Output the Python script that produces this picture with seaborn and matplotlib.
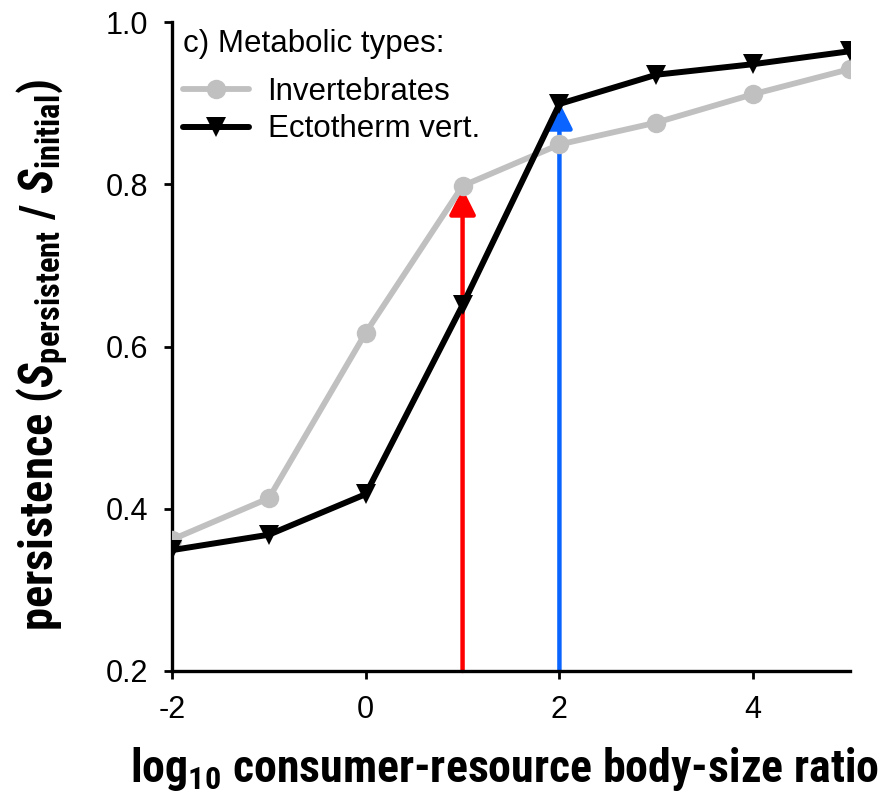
import matplotlib
matplotlib.use("Agg")
import matplotlib.pyplot as plt
import seaborn as sns
import pandas as pd

# Data
log_ratio = [-2, -1, 0, 1, 2, 3, 4, 5]
invertebrates = [0.362, 0.413, 0.617, 0.798, 0.849, 0.876, 0.911, 0.942]
ectotherm_vert = [0.349, 0.368, 0.418, 0.651, 0.899, 0.935, 0.948, 0.964]
series_names = ["Invertebrates", "Ectotherm vert."]
arrow_x = [1, 2]
arrow_top = [0.795, 0.901]
arrow_colors = ["#ff0000", "#0a64ff"]
xticks = [-2, 0, 2, 4]
yticks = [0.2, 0.4, 0.6, 0.8, 1.0]

sns.set_style("ticks")
plt.rcParams["font.family"] = ["Liberation Sans", "DejaVu Sans"]
plt.rcParams["text.color"] = "black"
plt.rcParams["axes.labelcolor"] = "black"
plt.rcParams["mathtext.fontset"] = "custom"
plt.rcParams["mathtext.rm"] = "Roboto Condensed:bold"
plt.rcParams["mathtext.it"] = "Roboto Condensed:bold:italic"
plt.rcParams["mathtext.bf"] = "Roboto Condensed:bold"

df = pd.DataFrame({
    "x": log_ratio * 2,
    "y": invertebrates + ectotherm_vert,
    "series": [series_names[0]] * len(log_ratio) + [series_names[1]] * len(log_ratio),
})

fig = plt.figure(figsize=(8.9, 8.02), dpi=100)
ax = fig.add_axes([172 / 890, 131 / 802, 678 / 890, 649 / 802])

for xa, ya, c in zip(arrow_x, arrow_top, arrow_colors):
    ax.annotate("", xy=(xa, ya), xytext=(xa, 0.2),
                arrowprops=dict(arrowstyle="-|>,head_length=0.8,head_width=0.4",
                                color=c, lw=3.2, mutation_scale=20,
                                shrinkA=0, shrinkB=0), zorder=2)

sns.lineplot(data=df[df.series == series_names[0]], x="x", y="y", ax=ax,
             color="#c0c0c0", lw=4.2, marker="o", markersize=14,
             markeredgewidth=0, label=series_names[0], zorder=3)
sns.lineplot(data=df[df.series == series_names[1]], x="x", y="y", ax=ax,
             color="black", lw=4.3, marker="v", markersize=14,
             markeredgewidth=0, label=series_names[1], zorder=4)

ax.set_xlim(-2, 5)
ax.set_ylim(0.2, 1.0)
ax.set_xticks(xticks)
ax.set_xticklabels([str(t) for t in xticks])
ax.set_yticks(yticks)
ax.set_yticklabels([f"{t:.1f}" for t in yticks])
sns.despine(ax=ax)
for s in ["left", "bottom"]:
    ax.spines[s].set_linewidth(2.4)
    ax.spines[s].set_color("black")
ax.tick_params(axis="both", labelsize=22, width=2, length=6, color="black",
               labelcolor="black", pad=11)

ax.set_xlabel(r"log$_{\mathrm{10}}$ consumer-resource body-size ratio",
              fontsize=33, fontweight="bold", family="Roboto Condensed", labelpad=15)
ax.xaxis.label.set_x(0.49)
ax.set_ylabel(r"persistence ($S_{\mathrm{persistent}}$ / $S_{\mathrm{initial}}$)",
              fontsize=33.5, fontweight="bold", family="Roboto Condensed", labelpad=25)
ax.yaxis.label.set_y(0.487)

leg = ax.legend(loc="upper left", frameon=False, fontsize=22.5,
                title="c) Metabolic types:", title_fontsize=22.5,
                handlelength=2.1, handletextpad=0.6, borderaxespad=0.0,
                labelspacing=0.25, bbox_to_anchor=(-0.002, 1.008))
leg._legend_box.align = "left"
leg._legend_box.sep = 12.5

fig.savefig("out.png", dpi=100)
